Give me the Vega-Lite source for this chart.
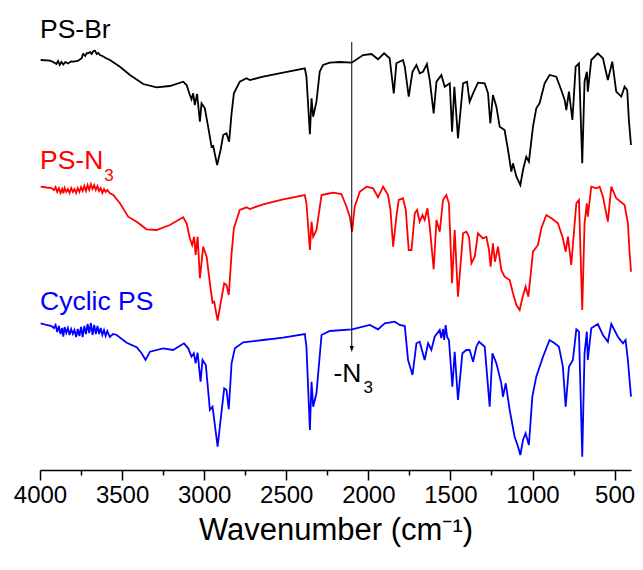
{
  "$schema": "https://vega.github.io/schema/vega-lite/v6.json",
  "autosize": {"type": "none"},
  "width": 591,
  "height": 460,
  "padding": {"left": 40, "top": 10, "right": 12, "bottom": 100},
  "background": "white",
  "view": {"stroke": null},
  "config": {"font": "Liberation Sans"},
  "layer": [
    {
      "data": {"values": [
        {"sample":"PS-Br","wavenumber":3996,"T":410},{"sample":"PS-Br","wavenumber":3939,"T":409.3},{"sample":"PS-Br","wavenumber":3920,"T":408},{"sample":"PS-Br","wavenumber":3900,"T":406},{"sample":"PS-Br","wavenumber":3890,"T":409},{"sample":"PS-Br","wavenumber":3880,"T":405},{"sample":"PS-Br","wavenumber":3870,"T":408},{"sample":"PS-Br","wavenumber":3858,"T":405.5},{"sample":"PS-Br","wavenumber":3845,"T":408},{"sample":"PS-Br","wavenumber":3830,"T":406.5},{"sample":"PS-Br","wavenumber":3810,"T":408.5},{"sample":"PS-Br","wavenumber":3797,"T":408.3},{"sample":"PS-Br","wavenumber":3770,"T":409},{"sample":"PS-Br","wavenumber":3746,"T":411.7},{"sample":"PS-Br","wavenumber":3740,"T":415},{"sample":"PS-Br","wavenumber":3736,"T":416},{"sample":"PS-Br","wavenumber":3725,"T":414},{"sample":"PS-Br","wavenumber":3715,"T":417},{"sample":"PS-Br","wavenumber":3706,"T":416.7},{"sample":"PS-Br","wavenumber":3695,"T":418},{"sample":"PS-Br","wavenumber":3685,"T":416},{"sample":"PS-Br","wavenumber":3675,"T":419},{"sample":"PS-Br","wavenumber":3665,"T":419.3},{"sample":"PS-Br","wavenumber":3655,"T":416},{"sample":"PS-Br","wavenumber":3645,"T":417},{"sample":"PS-Br","wavenumber":3635,"T":415},{"sample":"PS-Br","wavenumber":3620,"T":414},{"sample":"PS-Br","wavenumber":3600,"T":412},{"sample":"PS-Br","wavenumber":3574,"T":410},{"sample":"PS-Br","wavenumber":3513,"T":403.3},{"sample":"PS-Br","wavenumber":3452,"T":395},{"sample":"PS-Br","wavenumber":3371,"T":386},{"sample":"PS-Br","wavenumber":3290,"T":382.7},{"sample":"PS-Br","wavenumber":3209,"T":384},{"sample":"PS-Br","wavenumber":3128,"T":388.3},{"sample":"PS-Br","wavenumber":3107,"T":385},{"sample":"PS-Br","wavenumber":3087,"T":375},{"sample":"PS-Br","wavenumber":3077,"T":370.7},{"sample":"PS-Br","wavenumber":3067,"T":376.7},{"sample":"PS-Br","wavenumber":3057,"T":365},{"sample":"PS-Br","wavenumber":3043,"T":376},{"sample":"PS-Br","wavenumber":3026,"T":348.3},{"sample":"PS-Br","wavenumber":3016,"T":366.7},{"sample":"PS-Br","wavenumber":2996,"T":361.7},{"sample":"PS-Br","wavenumber":2976,"T":343.3},{"sample":"PS-Br","wavenumber":2955,"T":323.3},{"sample":"PS-Br","wavenumber":2945,"T":324},{"sample":"PS-Br","wavenumber":2921,"T":305},{"sample":"PS-Br","wavenumber":2900,"T":320},{"sample":"PS-Br","wavenumber":2884,"T":335},{"sample":"PS-Br","wavenumber":2864,"T":336.7},{"sample":"PS-Br","wavenumber":2848,"T":328.3},{"sample":"PS-Br","wavenumber":2833,"T":356.7},{"sample":"PS-Br","wavenumber":2819,"T":376.7},{"sample":"PS-Br","wavenumber":2783,"T":388.3},{"sample":"PS-Br","wavenumber":2742,"T":391.7},{"sample":"PS-Br","wavenumber":2722,"T":390},{"sample":"PS-Br","wavenumber":2641,"T":393.3},{"sample":"PS-Br","wavenumber":2519,"T":397.3},{"sample":"PS-Br","wavenumber":2387,"T":401.7},{"sample":"PS-Br","wavenumber":2377,"T":393.3},{"sample":"PS-Br","wavenumber":2356,"T":335.7},{"sample":"PS-Br","wavenumber":2346,"T":371.7},{"sample":"PS-Br","wavenumber":2336,"T":353.3},{"sample":"PS-Br","wavenumber":2316,"T":368.3},{"sample":"PS-Br","wavenumber":2296,"T":398.3},{"sample":"PS-Br","wavenumber":2276,"T":405},{"sample":"PS-Br","wavenumber":2235,"T":407.3},{"sample":"PS-Br","wavenumber":2174,"T":408},{"sample":"PS-Br","wavenumber":2101,"T":407.3},{"sample":"PS-Br","wavenumber":2032,"T":415},{"sample":"PS-Br","wavenumber":1981,"T":416},{"sample":"PS-Br","wavenumber":1941,"T":410.7},{"sample":"PS-Br","wavenumber":1904,"T":416.7},{"sample":"PS-Br","wavenumber":1870,"T":411.7},{"sample":"PS-Br","wavenumber":1845,"T":376.7},{"sample":"PS-Br","wavenumber":1829,"T":406.7},{"sample":"PS-Br","wavenumber":1789,"T":410},{"sample":"PS-Br","wavenumber":1778,"T":403.3},{"sample":"PS-Br","wavenumber":1754,"T":373.3},{"sample":"PS-Br","wavenumber":1731,"T":398.3},{"sample":"PS-Br","wavenumber":1707,"T":405},{"sample":"PS-Br","wavenumber":1687,"T":396.7},{"sample":"PS-Br","wavenumber":1667,"T":398.3},{"sample":"PS-Br","wavenumber":1643,"T":406},{"sample":"PS-Br","wavenumber":1626,"T":390},{"sample":"PS-Br","wavenumber":1602,"T":356.7},{"sample":"PS-Br","wavenumber":1585,"T":388.3},{"sample":"PS-Br","wavenumber":1555,"T":395},{"sample":"PS-Br","wavenumber":1535,"T":383.3},{"sample":"PS-Br","wavenumber":1504,"T":386.7},{"sample":"PS-Br","wavenumber":1490,"T":338.3},{"sample":"PS-Br","wavenumber":1476,"T":383.3},{"sample":"PS-Br","wavenumber":1454,"T":331.7},{"sample":"PS-Br","wavenumber":1423,"T":386.7},{"sample":"PS-Br","wavenumber":1399,"T":388.3},{"sample":"PS-Br","wavenumber":1383,"T":368.3},{"sample":"PS-Br","wavenumber":1362,"T":376.7},{"sample":"PS-Br","wavenumber":1332,"T":387.3},{"sample":"PS-Br","wavenumber":1291,"T":386.7},{"sample":"PS-Br","wavenumber":1271,"T":376.7},{"sample":"PS-Br","wavenumber":1257,"T":346.7},{"sample":"PS-Br","wavenumber":1241,"T":375},{"sample":"PS-Br","wavenumber":1220,"T":363.3},{"sample":"PS-Br","wavenumber":1200,"T":343.3},{"sample":"PS-Br","wavenumber":1170,"T":340},{"sample":"PS-Br","wavenumber":1149,"T":320},{"sample":"PS-Br","wavenumber":1129,"T":298.3},{"sample":"PS-Br","wavenumber":1119,"T":306.7},{"sample":"PS-Br","wavenumber":1098,"T":293.3},{"sample":"PS-Br","wavenumber":1074,"T":285},{"sample":"PS-Br","wavenumber":1058,"T":300},{"sample":"PS-Br","wavenumber":1038,"T":313.3},{"sample":"PS-Br","wavenumber":1022,"T":308.3},{"sample":"PS-Br","wavenumber":997,"T":343.3},{"sample":"PS-Br","wavenumber":977,"T":361.7},{"sample":"PS-Br","wavenumber":957,"T":366.7},{"sample":"PS-Br","wavenumber":926,"T":386.7},{"sample":"PS-Br","wavenumber":896,"T":395},{"sample":"PS-Br","wavenumber":855,"T":393.3},{"sample":"PS-Br","wavenumber":825,"T":380},{"sample":"PS-Br","wavenumber":804,"T":370},{"sample":"PS-Br","wavenumber":794,"T":360},{"sample":"PS-Br","wavenumber":778,"T":378.3},{"sample":"PS-Br","wavenumber":757,"T":350},{"sample":"PS-Br","wavenumber":737,"T":403.3},{"sample":"PS-Br","wavenumber":717,"T":406.7},{"sample":"PS-Br","wavenumber":697,"T":306.7},{"sample":"PS-Br","wavenumber":683,"T":388.3},{"sample":"PS-Br","wavenumber":669,"T":398.3},{"sample":"PS-Br","wavenumber":663,"T":378.3},{"sample":"PS-Br","wavenumber":642,"T":410},{"sample":"PS-Br","wavenumber":602,"T":416.7},{"sample":"PS-Br","wavenumber":571,"T":411.7},{"sample":"PS-Br","wavenumber":541,"T":390},{"sample":"PS-Br","wavenumber":514,"T":408.3},{"sample":"PS-Br","wavenumber":490,"T":378.3},{"sample":"PS-Br","wavenumber":459,"T":373.3},{"sample":"PS-Br","wavenumber":439,"T":383.3},{"sample":"PS-Br","wavenumber":423,"T":380},{"sample":"PS-Br","wavenumber":413,"T":350},{"sample":"PS-Br","wavenumber":400,"T":325},

        {"sample":"PS-N3","wavenumber":3996,"T":283.3},{"sample":"PS-N3","wavenumber":3960,"T":282.5},{"sample":"PS-N3","wavenumber":3930,"T":282},{"sample":"PS-N3","wavenumber":3915,"T":280},{"sample":"PS-N3","wavenumber":3905,"T":283},{"sample":"PS-N3","wavenumber":3895,"T":278},{"sample":"PS-N3","wavenumber":3885,"T":282},{"sample":"PS-N3","wavenumber":3875,"T":277},{"sample":"PS-N3","wavenumber":3865,"T":281},{"sample":"PS-N3","wavenumber":3858,"T":276.7},{"sample":"PS-N3","wavenumber":3850,"T":282},{"sample":"PS-N3","wavenumber":3840,"T":278},{"sample":"PS-N3","wavenumber":3830,"T":281},{"sample":"PS-N3","wavenumber":3820,"T":277},{"sample":"PS-N3","wavenumber":3810,"T":282},{"sample":"PS-N3","wavenumber":3800,"T":278},{"sample":"PS-N3","wavenumber":3790,"T":281},{"sample":"PS-N3","wavenumber":3780,"T":277},{"sample":"PS-N3","wavenumber":3770,"T":282},{"sample":"PS-N3","wavenumber":3760,"T":278},{"sample":"PS-N3","wavenumber":3750,"T":283},{"sample":"PS-N3","wavenumber":3740,"T":279},{"sample":"PS-N3","wavenumber":3730,"T":284},{"sample":"PS-N3","wavenumber":3720,"T":279},{"sample":"PS-N3","wavenumber":3710,"T":285},{"sample":"PS-N3","wavenumber":3700,"T":280},{"sample":"PS-N3","wavenumber":3690,"T":286},{"sample":"PS-N3","wavenumber":3680,"T":281},{"sample":"PS-N3","wavenumber":3670,"T":285},{"sample":"PS-N3","wavenumber":3660,"T":280},{"sample":"PS-N3","wavenumber":3650,"T":284},{"sample":"PS-N3","wavenumber":3640,"T":279},{"sample":"PS-N3","wavenumber":3630,"T":282},{"sample":"PS-N3","wavenumber":3620,"T":277},{"sample":"PS-N3","wavenumber":3610,"T":281},{"sample":"PS-N3","wavenumber":3600,"T":278},{"sample":"PS-N3","wavenumber":3590,"T":280},{"sample":"PS-N3","wavenumber":3575,"T":277},{"sample":"PS-N3","wavenumber":3554,"T":275},{"sample":"PS-N3","wavenumber":3513,"T":266.7},{"sample":"PS-N3","wavenumber":3463,"T":253.3},{"sample":"PS-N3","wavenumber":3411,"T":248.3},{"sample":"PS-N3","wavenumber":3351,"T":240.7},{"sample":"PS-N3","wavenumber":3290,"T":240},{"sample":"PS-N3","wavenumber":3209,"T":245},{"sample":"PS-N3","wavenumber":3128,"T":252.7},{"sample":"PS-N3","wavenumber":3107,"T":246.7},{"sample":"PS-N3","wavenumber":3087,"T":231.7},{"sample":"PS-N3","wavenumber":3073,"T":225},{"sample":"PS-N3","wavenumber":3061,"T":233.3},{"sample":"PS-N3","wavenumber":3052,"T":215},{"sample":"PS-N3","wavenumber":3040,"T":233.3},{"sample":"PS-N3","wavenumber":3026,"T":191.7},{"sample":"PS-N3","wavenumber":3006,"T":223.3},{"sample":"PS-N3","wavenumber":2985,"T":213.3},{"sample":"PS-N3","wavenumber":2965,"T":186.7},{"sample":"PS-N3","wavenumber":2949,"T":167.3},{"sample":"PS-N3","wavenumber":2939,"T":168.3},{"sample":"PS-N3","wavenumber":2918,"T":149.3},{"sample":"PS-N3","wavenumber":2900,"T":166.7},{"sample":"PS-N3","wavenumber":2878,"T":186.7},{"sample":"PS-N3","wavenumber":2864,"T":185},{"sample":"PS-N3","wavenumber":2850,"T":175},{"sample":"PS-N3","wavenumber":2833,"T":216.7},{"sample":"PS-N3","wavenumber":2819,"T":241.7},{"sample":"PS-N3","wavenumber":2783,"T":260},{"sample":"PS-N3","wavenumber":2742,"T":262.7},{"sample":"PS-N3","wavenumber":2722,"T":261},{"sample":"PS-N3","wavenumber":2641,"T":265.7},{"sample":"PS-N3","wavenumber":2519,"T":270.7},{"sample":"PS-N3","wavenumber":2387,"T":275},{"sample":"PS-N3","wavenumber":2377,"T":266.7},{"sample":"PS-N3","wavenumber":2356,"T":220},{"sample":"PS-N3","wavenumber":2346,"T":248.3},{"sample":"PS-N3","wavenumber":2336,"T":233.3},{"sample":"PS-N3","wavenumber":2316,"T":240},{"sample":"PS-N3","wavenumber":2285,"T":275},{"sample":"PS-N3","wavenumber":2255,"T":276},{"sample":"PS-N3","wavenumber":2215,"T":277.3},{"sample":"PS-N3","wavenumber":2164,"T":276},{"sample":"PS-N3","wavenumber":2133,"T":263.3},{"sample":"PS-N3","wavenumber":2113,"T":253.3},{"sample":"PS-N3","wavenumber":2099,"T":238.3},{"sample":"PS-N3","wavenumber":2083,"T":263.3},{"sample":"PS-N3","wavenumber":2052,"T":278.3},{"sample":"PS-N3","wavenumber":2011,"T":283.3},{"sample":"PS-N3","wavenumber":1971,"T":281.7},{"sample":"PS-N3","wavenumber":1941,"T":272.7},{"sample":"PS-N3","wavenumber":1910,"T":283.3},{"sample":"PS-N3","wavenumber":1880,"T":275},{"sample":"PS-N3","wavenumber":1865,"T":260},{"sample":"PS-N3","wavenumber":1849,"T":223.3},{"sample":"PS-N3","wavenumber":1829,"T":253.3},{"sample":"PS-N3","wavenumber":1815,"T":270},{"sample":"PS-N3","wavenumber":1789,"T":271.7},{"sample":"PS-N3","wavenumber":1772,"T":260},{"sample":"PS-N3","wavenumber":1754,"T":220},{"sample":"PS-N3","wavenumber":1737,"T":220},{"sample":"PS-N3","wavenumber":1717,"T":256.7},{"sample":"PS-N3","wavenumber":1703,"T":260},{"sample":"PS-N3","wavenumber":1687,"T":248.3},{"sample":"PS-N3","wavenumber":1670,"T":255},{"sample":"PS-N3","wavenumber":1657,"T":250},{"sample":"PS-N3","wavenumber":1640,"T":261.7},{"sample":"PS-N3","wavenumber":1626,"T":243.3},{"sample":"PS-N3","wavenumber":1602,"T":200.7},{"sample":"PS-N3","wavenumber":1585,"T":250},{"sample":"PS-N3","wavenumber":1565,"T":238.3},{"sample":"PS-N3","wavenumber":1545,"T":270},{"sample":"PS-N3","wavenumber":1525,"T":275},{"sample":"PS-N3","wavenumber":1509,"T":266.7},{"sample":"PS-N3","wavenumber":1490,"T":186.7},{"sample":"PS-N3","wavenumber":1474,"T":240},{"sample":"PS-N3","wavenumber":1454,"T":173.3},{"sample":"PS-N3","wavenumber":1423,"T":236.7},{"sample":"PS-N3","wavenumber":1403,"T":238.3},{"sample":"PS-N3","wavenumber":1387,"T":233.3},{"sample":"PS-N3","wavenumber":1372,"T":206.7},{"sample":"PS-N3","wavenumber":1352,"T":213.3},{"sample":"PS-N3","wavenumber":1332,"T":236.7},{"sample":"PS-N3","wavenumber":1302,"T":231.7},{"sample":"PS-N3","wavenumber":1281,"T":233.3},{"sample":"PS-N3","wavenumber":1265,"T":220},{"sample":"PS-N3","wavenumber":1255,"T":203.3},{"sample":"PS-N3","wavenumber":1241,"T":226.7},{"sample":"PS-N3","wavenumber":1229,"T":208.3},{"sample":"PS-N3","wavenumber":1210,"T":223.3},{"sample":"PS-N3","wavenumber":1190,"T":200},{"sample":"PS-N3","wavenumber":1170,"T":193.3},{"sample":"PS-N3","wavenumber":1139,"T":190},{"sample":"PS-N3","wavenumber":1119,"T":176.7},{"sample":"PS-N3","wavenumber":1098,"T":165},{"sample":"PS-N3","wavenumber":1078,"T":160},{"sample":"PS-N3","wavenumber":1062,"T":171.7},{"sample":"PS-N3","wavenumber":1042,"T":183.3},{"sample":"PS-N3","wavenumber":1025,"T":173.3},{"sample":"PS-N3","wavenumber":997,"T":218.3},{"sample":"PS-N3","wavenumber":967,"T":225},{"sample":"PS-N3","wavenumber":946,"T":241.7},{"sample":"PS-N3","wavenumber":916,"T":255},{"sample":"PS-N3","wavenumber":885,"T":251.7},{"sample":"PS-N3","wavenumber":845,"T":246.7},{"sample":"PS-N3","wavenumber":815,"T":231.7},{"sample":"PS-N3","wavenumber":798,"T":218.3},{"sample":"PS-N3","wavenumber":784,"T":233.3},{"sample":"PS-N3","wavenumber":764,"T":205},{"sample":"PS-N3","wavenumber":733,"T":266.7},{"sample":"PS-N3","wavenumber":717,"T":270},{"sample":"PS-N3","wavenumber":697,"T":160},{"sample":"PS-N3","wavenumber":683,"T":246.7},{"sample":"PS-N3","wavenumber":669,"T":266.7},{"sample":"PS-N3","wavenumber":663,"T":253.3},{"sample":"PS-N3","wavenumber":642,"T":283.3},{"sample":"PS-N3","wavenumber":611,"T":281.7},{"sample":"PS-N3","wavenumber":591,"T":283.3},{"sample":"PS-N3","wavenumber":571,"T":273.3},{"sample":"PS-N3","wavenumber":541,"T":248.3},{"sample":"PS-N3","wavenumber":520,"T":283.3},{"sample":"PS-N3","wavenumber":490,"T":271.7},{"sample":"PS-N3","wavenumber":439,"T":265},{"sample":"PS-N3","wavenumber":419,"T":246.7},{"sample":"PS-N3","wavenumber":409,"T":218.3},{"sample":"PS-N3","wavenumber":400,"T":198.3},

        {"sample":"Cyclic PS","wavenumber":3996,"T":146.7},{"sample":"Cyclic PS","wavenumber":3960,"T":145},{"sample":"Cyclic PS","wavenumber":3930,"T":144},{"sample":"Cyclic PS","wavenumber":3915,"T":142},{"sample":"Cyclic PS","wavenumber":3905,"T":145},{"sample":"Cyclic PS","wavenumber":3895,"T":138},{"sample":"Cyclic PS","wavenumber":3885,"T":144},{"sample":"Cyclic PS","wavenumber":3875,"T":136},{"sample":"Cyclic PS","wavenumber":3865,"T":142},{"sample":"Cyclic PS","wavenumber":3858,"T":133.3},{"sample":"Cyclic PS","wavenumber":3850,"T":143},{"sample":"Cyclic PS","wavenumber":3840,"T":137},{"sample":"Cyclic PS","wavenumber":3830,"T":142},{"sample":"Cyclic PS","wavenumber":3820,"T":135},{"sample":"Cyclic PS","wavenumber":3810,"T":141},{"sample":"Cyclic PS","wavenumber":3800,"T":136},{"sample":"Cyclic PS","wavenumber":3790,"T":140},{"sample":"Cyclic PS","wavenumber":3780,"T":133},{"sample":"Cyclic PS","wavenumber":3770,"T":141},{"sample":"Cyclic PS","wavenumber":3760,"T":134},{"sample":"Cyclic PS","wavenumber":3750,"T":143},{"sample":"Cyclic PS","wavenumber":3740,"T":133},{"sample":"Cyclic PS","wavenumber":3730,"T":144},{"sample":"Cyclic PS","wavenumber":3720,"T":136},{"sample":"Cyclic PS","wavenumber":3710,"T":146},{"sample":"Cyclic PS","wavenumber":3700,"T":137},{"sample":"Cyclic PS","wavenumber":3690,"T":147},{"sample":"Cyclic PS","wavenumber":3680,"T":135},{"sample":"Cyclic PS","wavenumber":3670,"T":145},{"sample":"Cyclic PS","wavenumber":3660,"T":136},{"sample":"Cyclic PS","wavenumber":3650,"T":144},{"sample":"Cyclic PS","wavenumber":3640,"T":136},{"sample":"Cyclic PS","wavenumber":3630,"T":142},{"sample":"Cyclic PS","wavenumber":3620,"T":135},{"sample":"Cyclic PS","wavenumber":3610,"T":140},{"sample":"Cyclic PS","wavenumber":3600,"T":134},{"sample":"Cyclic PS","wavenumber":3590,"T":139},{"sample":"Cyclic PS","wavenumber":3575,"T":133},{"sample":"Cyclic PS","wavenumber":3555,"T":136},{"sample":"Cyclic PS","wavenumber":3533,"T":135},{"sample":"Cyclic PS","wavenumber":3472,"T":127.3},{"sample":"Cyclic PS","wavenumber":3411,"T":122.7},{"sample":"Cyclic PS","wavenumber":3381,"T":116.7},{"sample":"Cyclic PS","wavenumber":3357,"T":110},{"sample":"Cyclic PS","wavenumber":3330,"T":118.3},{"sample":"Cyclic PS","wavenumber":3250,"T":121.7},{"sample":"Cyclic PS","wavenumber":3189,"T":120},{"sample":"Cyclic PS","wavenumber":3123,"T":126.7},{"sample":"Cyclic PS","wavenumber":3097,"T":121.7},{"sample":"Cyclic PS","wavenumber":3077,"T":113.3},{"sample":"Cyclic PS","wavenumber":3063,"T":116.7},{"sample":"Cyclic PS","wavenumber":3052,"T":106.7},{"sample":"Cyclic PS","wavenumber":3040,"T":117.3},{"sample":"Cyclic PS","wavenumber":3022,"T":88.3},{"sample":"Cyclic PS","wavenumber":3010,"T":110},{"sample":"Cyclic PS","wavenumber":2990,"T":105},{"sample":"Cyclic PS","wavenumber":2965,"T":60},{"sample":"Cyclic PS","wavenumber":2949,"T":63.3},{"sample":"Cyclic PS","wavenumber":2918,"T":23.3},{"sample":"Cyclic PS","wavenumber":2900,"T":50},{"sample":"Cyclic PS","wavenumber":2878,"T":81.7},{"sample":"Cyclic PS","wavenumber":2864,"T":80},{"sample":"Cyclic PS","wavenumber":2850,"T":60.7},{"sample":"Cyclic PS","wavenumber":2833,"T":106.7},{"sample":"Cyclic PS","wavenumber":2813,"T":121.7},{"sample":"Cyclic PS","wavenumber":2762,"T":127.7},{"sample":"Cyclic PS","wavenumber":2641,"T":130},{"sample":"Cyclic PS","wavenumber":2519,"T":132.3},{"sample":"Cyclic PS","wavenumber":2387,"T":136},{"sample":"Cyclic PS","wavenumber":2377,"T":123.3},{"sample":"Cyclic PS","wavenumber":2356,"T":40},{"sample":"Cyclic PS","wavenumber":2346,"T":88.3},{"sample":"Cyclic PS","wavenumber":2336,"T":63.3},{"sample":"Cyclic PS","wavenumber":2316,"T":76.7},{"sample":"Cyclic PS","wavenumber":2285,"T":135},{"sample":"Cyclic PS","wavenumber":2235,"T":139},{"sample":"Cyclic PS","wavenumber":2099,"T":140.7},{"sample":"Cyclic PS","wavenumber":1991,"T":145},{"sample":"Cyclic PS","wavenumber":1941,"T":140.7},{"sample":"Cyclic PS","wavenumber":1900,"T":146.7},{"sample":"Cyclic PS","wavenumber":1839,"T":148.3},{"sample":"Cyclic PS","wavenumber":1809,"T":145},{"sample":"Cyclic PS","wavenumber":1778,"T":144},{"sample":"Cyclic PS","wavenumber":1758,"T":110},{"sample":"Cyclic PS","wavenumber":1731,"T":95},{"sample":"Cyclic PS","wavenumber":1707,"T":126.7},{"sample":"Cyclic PS","wavenumber":1687,"T":128.3},{"sample":"Cyclic PS","wavenumber":1657,"T":110},{"sample":"Cyclic PS","wavenumber":1636,"T":126.7},{"sample":"Cyclic PS","wavenumber":1616,"T":120},{"sample":"Cyclic PS","wavenumber":1596,"T":133.3},{"sample":"Cyclic PS","wavenumber":1565,"T":140},{"sample":"Cyclic PS","wavenumber":1556,"T":132},{"sample":"Cyclic PS","wavenumber":1545,"T":141},{"sample":"Cyclic PS","wavenumber":1538,"T":130},{"sample":"Cyclic PS","wavenumber":1529,"T":145},{"sample":"Cyclic PS","wavenumber":1520,"T":133},{"sample":"Cyclic PS","wavenumber":1509,"T":130},{"sample":"Cyclic PS","wavenumber":1488,"T":83.3},{"sample":"Cyclic PS","wavenumber":1474,"T":118.3},{"sample":"Cyclic PS","wavenumber":1454,"T":70},{"sample":"Cyclic PS","wavenumber":1427,"T":116.7},{"sample":"Cyclic PS","wavenumber":1403,"T":120},{"sample":"Cyclic PS","wavenumber":1383,"T":120},{"sample":"Cyclic PS","wavenumber":1362,"T":108.3},{"sample":"Cyclic PS","wavenumber":1342,"T":123.3},{"sample":"Cyclic PS","wavenumber":1326,"T":128.3},{"sample":"Cyclic PS","wavenumber":1291,"T":123.3},{"sample":"Cyclic PS","wavenumber":1261,"T":63.3},{"sample":"Cyclic PS","wavenumber":1244,"T":116.7},{"sample":"Cyclic PS","wavenumber":1220,"T":106.7},{"sample":"Cyclic PS","wavenumber":1190,"T":86.7},{"sample":"Cyclic PS","wavenumber":1180,"T":73.3},{"sample":"Cyclic PS","wavenumber":1163,"T":86.7},{"sample":"Cyclic PS","wavenumber":1139,"T":60},{"sample":"Cyclic PS","wavenumber":1109,"T":33.3},{"sample":"Cyclic PS","wavenumber":1088,"T":23.3},{"sample":"Cyclic PS","wavenumber":1074,"T":15},{"sample":"Cyclic PS","wavenumber":1058,"T":30},{"sample":"Cyclic PS","wavenumber":1042,"T":36.7},{"sample":"Cyclic PS","wavenumber":1022,"T":25},{"sample":"Cyclic PS","wavenumber":1001,"T":73.3},{"sample":"Cyclic PS","wavenumber":977,"T":93.3},{"sample":"Cyclic PS","wavenumber":936,"T":113.3},{"sample":"Cyclic PS","wavenumber":896,"T":130},{"sample":"Cyclic PS","wavenumber":865,"T":126.7},{"sample":"Cyclic PS","wavenumber":839,"T":123.3},{"sample":"Cyclic PS","wavenumber":815,"T":103.3},{"sample":"Cyclic PS","wavenumber":798,"T":63.3},{"sample":"Cyclic PS","wavenumber":778,"T":103.3},{"sample":"Cyclic PS","wavenumber":754,"T":110},{"sample":"Cyclic PS","wavenumber":733,"T":140.7},{"sample":"Cyclic PS","wavenumber":717,"T":138.3},{"sample":"Cyclic PS","wavenumber":697,"T":13.3},{"sample":"Cyclic PS","wavenumber":683,"T":116.7},{"sample":"Cyclic PS","wavenumber":669,"T":138.3},{"sample":"Cyclic PS","wavenumber":663,"T":110},{"sample":"Cyclic PS","wavenumber":642,"T":141.7},{"sample":"Cyclic PS","wavenumber":602,"T":146},{"sample":"Cyclic PS","wavenumber":571,"T":135},{"sample":"Cyclic PS","wavenumber":541,"T":128.3},{"sample":"Cyclic PS","wavenumber":520,"T":146},{"sample":"Cyclic PS","wavenumber":480,"T":133.3},{"sample":"Cyclic PS","wavenumber":449,"T":126.7},{"sample":"Cyclic PS","wavenumber":433,"T":130},{"sample":"Cyclic PS","wavenumber":419,"T":110},{"sample":"Cyclic PS","wavenumber":400,"T":73.3}
      ]},
      "mark": {"type": "line", "strokeWidth": 1.8, "interpolate": "linear"},
      "encoding": {
        "x": {
          "field": "wavenumber", "type": "quantitative",
          "scale": {"domain": [4000, 400], "nice": false, "zero": false},
          "axis": {
            "values": [4000, 3750, 3500, 3250, 3000, 2750, 2500, 2250, 2000, 1750, 1500, 1250, 1000, 750, 500],
            "format": "d",
            "labelExpr": "datum.value % 500 === 0 ? datum.label : ''",
            "tickSize": {"condition": {"test": "datum.value % 500 === 0", "value": 10}, "value": 5},
            "grid": false,
            "domainColor": "black", "domainWidth": 1.5,
            "tickColor": "black", "tickWidth": 1.5,
            "labelFont": "Liberation Sans", "labelFontSize": 24, "labelColor": "black",
            "labelPadding": 3, "labelFlush": false, "labelOverlap": false,
            "title": "Wavenumber (cm⁻¹)",
            "titleFont": "Liberation Sans", "titleFontSize": 31, "titleFontWeight": "normal",
            "titleColor": "black", "titlePadding": 8
          }
        },
        "y": {"field": "T", "type": "quantitative", "scale": {"domain": [0, 460], "nice": false, "zero": false}, "axis": null},
        "color": {"field": "sample", "type": "nominal", "scale": {"domain": ["PS-Br", "PS-N3", "Cyclic PS"], "range": ["#000000", "#ff0000", "#0000ff"]}, "legend": null}
      }
    },
    {
      "data": {"values": [{}]},
      "mark": {"type": "rule", "color": "black", "strokeWidth": 1},
      "encoding": {"x": {"datum": 2101}, "y": {"datum": 428}, "y2": {"datum": 124}}
    },
    {
      "data": {"values": [{}]},
      "mark": {"type": "point", "shape": "M-0.35,-1L0.35,-1L0,0Z", "size": 144, "filled": true, "color": "black", "opacity": 1},
      "encoding": {"x": {"datum": 2101}, "y": {"datum": 118}}
    },
    {
      "data": {"values": [{}]},
      "mark": {"type": "text", "text": "PS-Br", "align": "left", "baseline": "alphabetic", "font": "Liberation Sans", "fontSize": 26.5, "color": "#000000"},
      "encoding": {"x": {"datum": 4000}, "y": {"datum": 432}}
    },
    {
      "data": {"values": [{}]},
      "mark": {"type": "text", "text": "PS-N", "align": "left", "baseline": "alphabetic", "font": "Liberation Sans", "fontSize": 26.5, "color": "#ff0000"},
      "encoding": {"x": {"datum": 4000}, "y": {"datum": 301}}
    },
    {
      "data": {"values": [{}]},
      "mark": {"type": "text", "text": "3", "align": "left", "baseline": "alphabetic", "font": "Liberation Sans", "fontSize": 17, "color": "#ff0000"},
      "encoding": {"x": {"datum": 3608}, "y": {"datum": 289}}
    },
    {
      "data": {"values": [{}]},
      "mark": {"type": "text", "text": "Cyclic PS", "align": "left", "baseline": "alphabetic", "font": "Liberation Sans", "fontSize": 26.5, "color": "#0000ff"},
      "encoding": {"x": {"datum": 4000}, "y": {"datum": 160}}
    },
    {
      "data": {"values": [{}]},
      "mark": {"type": "text", "text": "-N", "align": "left", "baseline": "alphabetic", "font": "Liberation Sans", "fontSize": 26.5, "color": "#000000"},
      "encoding": {"x": {"datum": 2212}, "y": {"datum": 88}}
    },
    {
      "data": {"values": [{}]},
      "mark": {"type": "text", "text": "3", "align": "left", "baseline": "alphabetic", "font": "Liberation Sans", "fontSize": 17, "color": "#000000"},
      "encoding": {"x": {"datum": 2030}, "y": {"datum": 77}}
    }
  ]
}
